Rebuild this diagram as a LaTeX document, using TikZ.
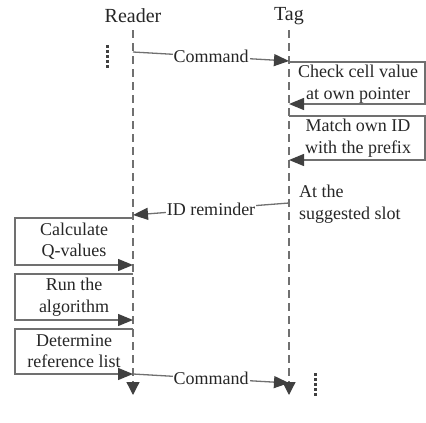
\documentclass[tikz,border=0pt]{standalone}
\usepackage{fontspec}
\setmainfont{Liberation Serif}
\usetikzlibrary{arrows.meta}
\definecolor{ln}{HTML}{707070}
\definecolor{tip}{HTML}{404040}
\begin{document}
\begin{tikzpicture}[x=1pt,y=-1pt,
  every node/.style={font=\fontsize{18}{21.5}\selectfont, text=black!85},
  head/.style={inner sep=0pt, font=\fontsize{20}{22}\selectfont},
  life/.style={draw=ln, line width=1.3pt, dash pattern=on 8pt off 5pt, -{Triangle[length=13pt,width=13pt,color=tip]}},
  msg/.style={draw=ln, line width=1.3pt, -{Triangle[length=15pt,width=12pt,color=tip]}},
  mlbl/.style={fill=white, inner sep=1pt},
  boxln/.style={draw=ln, line width=1.3pt, -{Triangle[length=15pt,width=12pt,color=tip]}},
  txt/.style={align=center, inner sep=0pt},
  dots/.style={draw=tip, line width=3pt, dash pattern=on 3pt off 2pt}
]
\useasboundingbox (0,0) rectangle (426,423);
% headers
\node[head] (reader) at (133,16) {Reader};
\node[head] (tag) at (289,16) {Tag};
% lifelines
\coordinate (r0) at (133,30); \coordinate (r1) at (133,395);
\coordinate (t0) at (289,30); \coordinate (t1) at (289,395);
\draw[life] (r0) -- (r1);
\draw[life] (t0) -- (t1);
% dots
\coordinate (d1a) at (107,45); \coordinate (d1b) at (107,69);
\draw[dots] (d1a) -- (d1b);
\coordinate (d2a) at (315,373); \coordinate (d2b) at (315,397);
\draw[dots] (d2a) -- (d2b);
% command 1
\coordinate (c1s) at (133,52); \coordinate (c1e) at (289,61);
\draw[msg] (c1s) -- node[mlbl] (c1l) {Command} (c1e);
% tag box 1
\coordinate (b1a) at (289,62); \coordinate (b1b) at (425,62);
\coordinate (b1c) at (425,104); \coordinate (b1d) at (289,104);
\draw[boxln] (b1a) -- (b1b) -- (b1c) -- (b1d);
\node[txt] (b1t) at (358,84) {Check cell value\\at own pointer};
% tag box 2
\coordinate (b2a) at (289,116); \coordinate (b2b) at (425,116);
\coordinate (b2c) at (425,160); \coordinate (b2d) at (289,160);
\draw[boxln] (b2a) -- (b2b) -- (b2c) -- (b2d);
\node[txt] (b2t) at (358,138) {Match own ID\\with the prefix};
% suggested slot
\node[txt, align=left, anchor=west] (slot) at (299,204) {At the\\suggested slot};
% ID reminder
\coordinate (ids) at (289,203); \coordinate (ide) at (133,215);
\draw[msg] (ids) -- node[mlbl] (idl) {ID reminder} (ide);
% reader box 1
\coordinate (a1a) at (133,218); \coordinate (a1b) at (15,218);
\coordinate (a1c) at (15,265); \coordinate (a1d) at (133,265);
\draw[boxln] (a1a) -- (a1b) -- (a1c) -- (a1d);
\node[txt] (a1t) at (74,241) {Calculate\\Q-values};
% reader box 2
\coordinate (a2a) at (133,274); \coordinate (a2b) at (15,274);
\coordinate (a2c) at (15,320); \coordinate (a2d) at (133,320);
\draw[boxln] (a2a) -- (a2b) -- (a2c) -- (a2d);
\node[txt] (a2t) at (74,297) {Run the\\algorithm};
% reader box 3
\coordinate (a3a) at (133,329); \coordinate (a3b) at (15,329);
\coordinate (a3c) at (15,374); \coordinate (a3d) at (133,374);
\draw[boxln] (a3a) -- (a3b) -- (a3c) -- (a3d);
\node[txt] (a3t) at (74,351) {Determine\\reference list};
% command 2
\coordinate (c2s) at (133,374); \coordinate (c2e) at (289,383);
\draw[msg] (c2s) -- node[mlbl] (c2l) {Command} (c2e);
\end{tikzpicture}
\end{document}
